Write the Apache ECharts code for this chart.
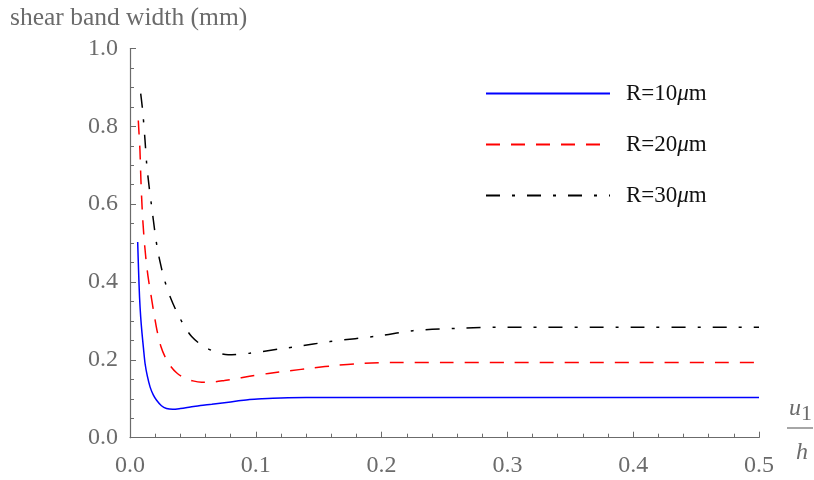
<!DOCTYPE html>
<html><head><meta charset="utf-8">
<script src="https://cdn.jsdelivr.net/npm/echarts@6/dist/echarts.min.js"></script>
<style>html,body{margin:0;padding:0;background:#fff}#c{width:814px;height:480px}</style>
</head><body><div id="c"></div>
<script>
const seriesNames = ['R=10μm', 'R=20μm', 'R=30μm'];
const xTicks = [0, 0.1, 0.2, 0.3, 0.4, 0.5];
const yTicks = [0, 0.2, 0.4, 0.6, 0.8, 1.0];

const xR10 = [0.0061,0.0068,0.0076,0.0085,0.0095,0.0107,0.012,0.0138,0.016,0.0185,0.021,0.025,0.029,0.034,0.04,0.048,0.056,0.065,0.075,0.085,0.095,0.105,0.12,0.14,0.17,0.2,0.3,0.4,0.5];
const yR10 = [0.503,0.43,0.36,0.31,0.27,0.23,0.19,0.158,0.13,0.11,0.097,0.082,0.075,0.073,0.075,0.079,0.083,0.086,0.09,0.094,0.098,0.1,0.102,0.103,0.103,0.103,0.103,0.103,0.103];

const xR20 = [0.0066,0.0072,0.0079,0.0087,0.0098,0.011,0.0125,0.0143,0.0165,0.019,0.0215,0.0245,0.028,0.032,0.037,0.043,0.05,0.057,0.065,0.075,0.085,0.095,0.11,0.127,0.145,0.165,0.185,0.21,0.25,0.3,0.4,0.5];
const yR20 = [0.815,0.78,0.74,0.66,0.58,0.52,0.465,0.415,0.37,0.32,0.275,0.235,0.207,0.185,0.167,0.154,0.146,0.1425,0.143,0.147,0.152,0.158,0.165,0.172,0.179,0.186,0.191,0.193,0.193,0.193,0.193,0.193];

const xR30 = [0.0085,0.0101,0.0119,0.0133,0.0152,0.0172,0.0199,0.0217,0.0238,0.027,0.0318,0.0397,0.049,0.061,0.078,0.095,0.119,0.1325,0.159,0.199,0.225,0.26,0.3,0.4,0.5];
const yR30 = [0.884,0.839,0.766,0.702,0.645,0.594,0.526,0.487,0.453,0.41,0.363,0.307,0.26,0.23,0.213,0.217,0.228,0.234,0.247,0.262,0.275,0.281,0.284,0.284,0.284];

const pair = (xs, ys) => xs.map((x, i) => [x, ys[i]]);
const gray = '#6b6b6b';
const serif = 'Liberation Serif';

const chart = echarts.init(document.getElementById('c'), null, {renderer: 'canvas'});
chart.setOption({
  animation: false,
  backgroundColor: '#fff',
  title: {
    text: 'shear band width (mm)', left: 5, top: 0,
    textStyle: {fontFamily: serif, fontSize: 25.5, fontWeight: 'normal', color: gray}
  },
  grid: {left: 130, right: 55, top: 48.5, bottom: 42.3, containLabel: false},
  legend: {
    orient: 'vertical', left: 480, top: 77,
    itemWidth: 124, itemHeight: 14, itemGap: 28,
    data: seriesNames,
    itemStyle: {opacity: 0},
    lineStyle: {width: 2},
    formatter: n => n.replace('μ', '{mu|μ}'),
    textStyle: {
      fontFamily: serif, fontSize: 23, color: '#111', padding: [0, 0, 0, 11],
      rich: {mu: {fontFamily: serif, fontStyle: 'italic', fontSize: 23, color: '#111'}}
    }
  },
  xAxis: {
    type: 'value', min: xTicks[0], max: xTicks[xTicks.length - 1], interval: 0.1,
    axisLine: {lineStyle: {color: gray, width: 1.2}},
    axisTick: {inside: true, length: 6, lineStyle: {color: gray}},
    minorTick: {show: true, splitNumber: 5, length: 4, lineStyle: {color: gray}},
    splitLine: {show: false},
    axisLabel: {fontFamily: serif, fontSize: 24, color: gray, margin: 16,
      formatter: v => v.toFixed(1)}
  },
  yAxis: {
    type: 'value', min: yTicks[0], max: yTicks[yTicks.length - 1], interval: 0.2,
    axisLine: {show: true, lineStyle: {color: gray, width: 1.2}},
    axisTick: {show: true, inside: true, length: 6, lineStyle: {color: gray}},
    minorTick: {show: true, splitNumber: 4, length: 4, lineStyle: {color: gray}},
    splitLine: {show: false},
    axisLabel: {fontFamily: serif, fontSize: 24, color: gray, margin: 12,
      formatter: v => v.toFixed(1)}
  },
  graphic: [
    {type: 'text', left: 789, top: 397, style: {text: 'u', font: 'italic 24px ' + serif, fill: gray}},
    {type: 'text', left: 801, top: 403, style: {text: '1', font: '22px ' + serif, fill: gray}},
    {type: 'line', shape: {x1: 787, y1: 428, x2: 813, y2: 428}, style: {stroke: gray, lineWidth: 1.2}},
    {type: 'text', left: 796, top: 441, style: {text: 'h', font: 'italic 24px ' + serif, fill: gray}}
  ],
  series: [
    {name: seriesNames[0], type: 'line', data: pair(xR10, yR10), showSymbol: false, symbol: 'none',
     smooth: 0.3, lineStyle: {color: '#0000ff', width: 1.5}, itemStyle: {color: '#0000ff'}},
    {name: seriesNames[1], type: 'line', data: pair(xR20, yR20), showSymbol: false, symbol: 'none',
     smooth: 0.3, lineStyle: {color: '#ff0000', width: 1.5, type: [14, 11]}, itemStyle: {color: '#ff0000'}},
    {name: seriesNames[2], type: 'line', data: pair(xR30, yR30), showSymbol: false, symbol: 'none',
     smooth: 0.3, lineStyle: {color: '#000000', width: 1.5, type: [14, 12, 3, 12]}, itemStyle: {color: '#000'}}
  ]
});
</script>
</body></html>
